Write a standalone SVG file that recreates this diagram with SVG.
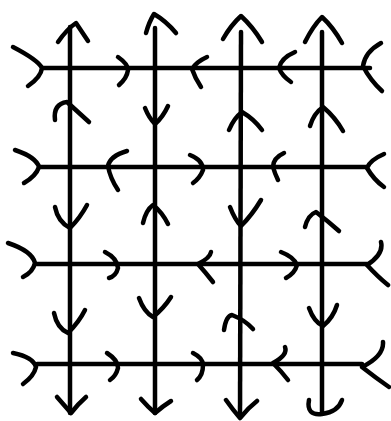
<svg xmlns="http://www.w3.org/2000/svg" width="391" height="421" viewBox="0 0 391 421">
<style>
.s{fill:none;stroke:#000;stroke-width:4.5;stroke-linecap:round;stroke-linejoin:round}
</style>
<rect width="391" height="421" fill="#fff"/>
<g id="lines" class="s">
<path d="M42,68 L370,68"/>
<path d="M39,167 L367,167"/>
<path d="M35,264 L367,264"/>
<path d="M37,364 L362,364"/>
<path d="M70,27 L70,413"/>
<path d="M155,28 L155,413"/>
<path d="M241,32 L240,417"/>
<path d="M322,32 L322,413"/>
</g>
<g id="arrows" class="s">
<!-- row 1 -->
<path d="M13,47 Q38,60 42,68 Q41,77 28,86"/>
<path d="M118,57 Q128,64 128,70 Q127,78 119,85"/>
<path d="M207,57 Q196,62 192,69 Q195,78 201,87"/>
<path d="M295,52 Q281,58 279,68 Q282,76 291,82"/>
<path d="M381,43 Q365,52 363,66 Q370,80 382,91"/>
<!-- tops -->
<path d="M58,42 Q67,29 76,23 Q82,32 88,41"/>
<path d="M146,33 Q149,22 154,14 Q166,21 176,33"/>
<path d="M223,39 Q231,25 241,16 Q253,27 262,42"/>
<path d="M305,42 Q313,26 322,17 Q333,27 342,43"/>
<!-- between h1 and h2 -->
<path d="M55,120 Q53,104 67,102 L89,122"/>
<path d="M145,108 Q149,118 155,124 Q163,117 168,106"/>
<path d="M229,130 Q234,118 242,112 Q254,119 262,130"/>
<path d="M310,126 Q314,113 323,107 Q335,117 343,131"/>
<!-- row 2 -->
<path d="M15,150 Q36,157 39,167 Q36,176 24,183"/>
<path d="M127,151 Q110,156 108,166 Q110,178 118,190"/>
<path d="M190,155 Q203,160 203,170 Q200,178 193,183"/>
<path d="M284,153 Q273,158 273,167 Q275,174 278,180"/>
<path d="M384,154 Q370,160 367,168 Q374,180 384,187"/>
<!-- between h2 and h3 -->
<path d="M55,207 Q58,222 70,228 Q80,218 87,205"/>
<path d="M143,223 Q146,210 153,205 Q162,212 168,224"/>
<path d="M230,207 Q235,220 241,226 Q252,215 261,200"/>
<path d="M305,227 Q308,215 316,212 Q329,222 339,231"/>
<!-- row 3 -->
<path d="M8,243 Q32,251 35,263 Q33,272 23,277"/>
<path d="M105,252 Q117,258 118,268 Q116,276 109,278"/>
<path d="M211,252 Q210,258 198,264 Q206,273 213,282"/>
<path d="M281,252 Q294,257 297,265 Q295,273 286,278"/>
<path d="M381,242 Q384,254 367,265 Q378,277 388,285"/>
<!-- between h3 and h4 -->
<path d="M54,313 Q57,328 68,333 Q79,322 85,310"/>
<path d="M139,298 Q144,312 153,317 Q164,308 171,297"/>
<path d="M224,330 Q226,316 232,315 Q245,320 253,329"/>
<path d="M309,308 Q314,322 323,326 Q333,318 337,305"/>
<!-- row 4 -->
<path d="M13,353 Q33,357 36,367 Q34,376 23,384"/>
<path d="M107,353 Q118,360 118,368 Q116,376 110,380"/>
<path d="M193,353 Q203,358 203,365 Q203,375 197,380"/>
<path d="M285,347 Q288,355 273,363 Q282,372 288,380"/>
<path d="M383,342 Q384,356 362,367 Q376,378 389,387"/>
<!-- bottoms -->
<path d="M57,397 Q64,405 71,413 Q78,404 86,397"/>
<path d="M141,399 Q148,407 155,413 Q163,406 171,401"/>
<path d="M226,400 Q233,410 240,418 Q248,408 257,401"/>
<path d="M309,400 Q306,416 322,414 Q338,412 342,400"/>
</g>
</svg>
